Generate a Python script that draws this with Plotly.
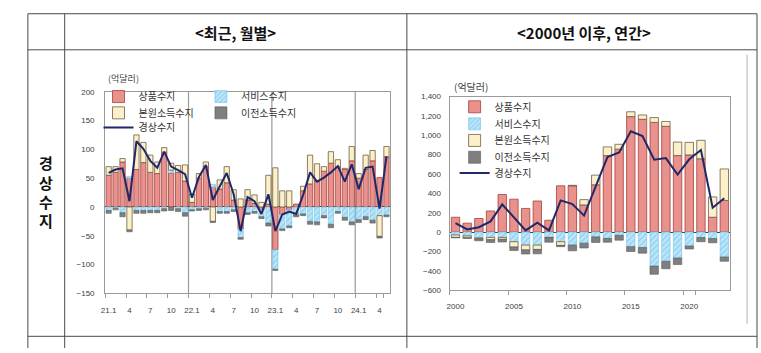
import plotly.graph_objects as go

# ---------------- data: recent, monthly (억달러) ----------------
MONTHS = ["21.1", "21.2", "21.3", "21.4", "21.5", "21.6", "21.7", "21.8", "21.9", "21.10", "21.11", "21.12",
          "22.1", "22.2", "22.3", "22.4", "22.5", "22.6", "22.7", "22.8", "22.9", "22.10", "22.11", "22.12",
          "23.1", "23.2", "23.3", "23.4", "23.5", "23.6", "23.7", "23.8", "23.9", "23.10", "23.11", "23.12",
          "24.1", "24.2", "24.3", "24.4", "24.5"]
MONTH_TICKS = ["21.1", "21.4", "21.7", "21.10", "22.1", "22.4", "22.7", "22.10",
               "23.1", "23.4", "23.7", "23.10", "24.1", "24.4"]
MONTH_TICK_LABELS = ["21.1", "4", "7", "10", "22.1", "4", "7", "10", "23.1", "4", "7", "10", "24.1", "4"]
YEAR_STARTS = ["22.1", "23.1", "24.1"]

M_GOODS = [55, 60, 78, 50, 65, 77, 60, 58, 95, 59, 60, 45,
           8, 50, 70, 34, 31, 42, 12, -38, 12, 6, -5, 5,
           -74, -13, -5, 5, 28, 40, 45, 62, 76, 70, 65, 80,
           50, 65, 80, 51, 87]
M_SERVICES = [-6, -2, -10, 3, -6, -6, -6, -6, -3, 5, -3, -10,
              -5, -3, -2, 5, -8, -8, -5, -15, -10, -8, -12, -28,
              -34, -25, -28, -12, -12, -25, -26, -15, -30, -8, -18, -26,
              -22, -17, -23, -15, -14]
M_PRIMARY = [15, 10, 6, -40, 60, 35, 30, 20, 8, 12, 12, 28,
             15, 8, 8, -25, 16, 28, 18, 14, 18, 15, 8, 50,
             68, 28, 28, -3, 8, 50, 30, 8, 20, 12, 2, 25,
             8, 25, 18, -36, 18]
M_SECONDARY = [-5, -3, -7, -3, -5, -5, -4, -4, -4, -6, -5, -6,
               -2, -3, -3, -2, -3, -3, -3, -3, -3, -3, -3, -5,
               -2, -3, -3, -2, -3, -5, -5, -4, -6, -3, -5, -5,
               -5, -5, -5, -3, -3]
M_CURRENT = [59, 65, 67, 10, 114, 101, 80, 68, 96, 70, 64, 57,
             16, 52, 73, 12, 36, 59, 22, -42, 17, 10, -12, 22,
             -42, -13, -8, -12, 21, 60, 44, 51, 60, 71, 44, 74,
             31, 68, 70, -3, 88]

# ---------------- data: since 2000, annual (억달러) ----------------
YEARS = ["2000", "2001", "2002", "2003", "2004", "2005", "2006", "2007", "2008", "2009", "2010", "2011",
         "2012", "2013", "2014", "2015", "2016", "2017", "2018", "2019", "2020", "2021", "2022", "2023"]
YEAR_TICKS = ["2000", "2005", "2010", "2015", "2020"]
Y_GOODS = [153, 92, 140, 218, 388, 340, 244, 321, 122, 478, 478, 280,
           488, 790, 857, 1193, 1165, 1133, 1093, 790, 797, 757, 153, 327]
Y_SERVICES = [-30, -40, -60, -55, -55, -100, -135, -135, -55, -100, -134, -115,
              -50, -65, -34, -151, -160, -352, -302, -268, -145, -57, -67, -258]
Y_PRIMARY = [-25, -20, -10, -25, -20, -55, -50, -45, -5, -38, 5, 55,
             100, 90, 50, 50, 45, 50, 50, 140, 130, 191, 210, 325]
Y_SECONDARY = [-5, -5, -20, -28, -28, -35, -42, -45, -45, -13, -60, -50,
               -57, -40, -50, -50, -58, -84, -77, -68, -30, -43, -44, -44]
Y_CURRENT = [93, 27, 50, 110, 285, 150, 17, 96, 17, 327, 289, 170,
             481, 775, 823, 1042, 992, 747, 764, 594, 752, 848, 252, 350]

NAMES = ["상품수지", "서비스수지", "본원소득수지", "이전소득수지", "경상수지"]
ROW_LABEL = ["경", "상", "수", "지"]

W, H = 761, 353
FONT = "Noto Sans CJK KR, Noto Sans, sans-serif"
GOODS_FILL, GOODS_LINE = "#E8918D", "#A8403A"
SERV_BG, SERV_FG = "#BEE6F8", "#5DBBEA"
PRIM_FILL, PRIM_LINE = "#FCF0CA", "#6E5E40"
SEC_FILL, SEC_LINE = "#7F7F7F", "#5A5A5A"
CA_LINE = "#1F2868"


def px_x(v):
    return v / W


def px_y(v):
    return 1 - v / H


fig = go.Figure()


def add_series(x, goods, serv, prim, sec, ca, xa, ya, width, legends):
    fig.add_trace(go.Bar(x=x, y=goods, name=NAMES[0], xaxis=xa, yaxis=ya, width=width,
                         marker=dict(color=GOODS_FILL, line=dict(color=GOODS_LINE, width=0.8)),
                         legend=legends[0], showlegend=True))
    fig.add_trace(go.Bar(x=x, y=serv, name=NAMES[1], xaxis=xa, yaxis=ya, width=width,
                         marker=dict(color=SERV_BG, line=dict(color=SERV_FG, width=0.5),
                                     pattern=dict(shape="/", fgcolor=SERV_FG, bgcolor=SERV_BG,
                                                  size=4, solidity=0.35)),
                         legend=legends[1], showlegend=True))
    fig.add_trace(go.Bar(x=x, y=prim, name=NAMES[2], xaxis=xa, yaxis=ya, width=width,
                         marker=dict(color=PRIM_FILL, line=dict(color=PRIM_LINE, width=0.8)),
                         legend=legends[2], showlegend=True))
    fig.add_trace(go.Bar(x=x, y=sec, name=NAMES[3], xaxis=xa, yaxis=ya, width=width,
                         marker=dict(color=SEC_FILL, line=dict(color=SEC_LINE, width=0.6)),
                         legend=legends[3], showlegend=True))
    fig.add_trace(go.Scatter(x=x, y=ca, name=NAMES[4], xaxis=xa, yaxis=ya, mode="lines",
                             line=dict(color=CA_LINE, width=2), legend=legends[4], showlegend=True))


add_series(MONTHS, M_GOODS, M_SERVICES, M_PRIMARY, M_SECONDARY, M_CURRENT, "x", "y", 0.76,
           ["legend", "legend2", "legend3", "legend4", "legend5"])
add_series(YEARS, Y_GOODS, Y_SERVICES, Y_PRIMARY, Y_SECONDARY, Y_CURRENT, "x2", "y2", 0.72,
           ["legend6", "legend7", "legend8", "legend9", "legend10"])

AX_LINE = "#9A9A9A"
TICK_FONT = dict(family="Liberation Sans, Arial, sans-serif", size=8, color="#404040")

fig.update_layout(
    width=W, height=H, margin=dict(l=0, r=0, t=0, b=0),
    paper_bgcolor="white", plot_bgcolor="white",
    barmode="relative", bargap=0.2, showlegend=True,
    font=dict(family=FONT, color="#333333"),
    xaxis=dict(domain=[px_x(101.7), px_x(388)], type="category", range=[-0.5, len(MONTHS) - 0.5],
               tickmode="array", tickvals=MONTH_TICKS, ticktext=MONTH_TICK_LABELS, tickangle=0,
               tickson="boundaries", ticks="outside", ticklen=4, tickcolor=AX_LINE,
               showgrid=False, showline=True, mirror=True, linecolor=AX_LINE, linewidth=1,
               tickfont=TICK_FONT, ticklabelstandoff=9, anchor="y"),
    yaxis=dict(domain=[px_y(297), px_y(90)], range=[-150, 200], dtick=50, tick0=0,
               showgrid=False, zeroline=True, zerolinecolor="#4A3A3A", zerolinewidth=1,
               showline=True, mirror=True, linecolor=AX_LINE, linewidth=1,
               tickfont=TICK_FONT, ticks="", ticklabelstandoff=8, anchor="x"),
    xaxis2=dict(domain=[px_x(448), px_x(730)], type="category", range=[-0.5, len(YEARS) - 0.5],
                tickmode="array", tickvals=YEAR_TICKS, ticktext=YEAR_TICKS, tickangle=0,
                tickson="boundaries", ticks="outside", ticklen=4, tickcolor=AX_LINE,
                showgrid=False, showline=True, mirror=True, linecolor=AX_LINE, linewidth=1,
                tickfont=TICK_FONT, ticklabelstandoff=8, anchor="y2"),
    yaxis2=dict(domain=[px_y(293.6), px_y(95)], range=[-600, 1400], dtick=200, tick0=0,
                tickformat=",", showgrid=False, zeroline=True, zerolinecolor="#4A3A3A",
                zerolinewidth=1, showline=True, mirror=True, linecolor=AX_LINE, linewidth=1,
                tickfont=TICK_FONT, ticks="", ticklabelstandoff=6, anchor="x2"),
)

# legends (one per entry so they can be placed like the original)
leg_font = dict(family=FONT, size=10, color="#333333")
left_pos = [(95, 95), (198, 95), (95, 111.7), (198, 111.7), (95, 126.7)]
right_pos = [(453, 105.5), (453, 123), (453, 140), (453, 157.3), (453, 173.5)]
legend_ids = ["legend", "legend2", "legend3", "legend4", "legend5",
              "legend6", "legend7", "legend8", "legend9", "legend10"]
for lid, (lx, ly) in zip(legend_ids, left_pos + right_pos):
    fig.update_layout({lid: dict(x=px_x(lx), y=px_y(ly), xanchor="left", yanchor="middle",
                                 bgcolor="rgba(0,0,0,0)", borderwidth=0, font=leg_font,
                                 itemwidth=30, tracegroupgap=0, visible=True)})

# year separators in the monthly chart (category boundaries)
shapes = []
for ys in YEAR_STARTS:
    idx = MONTHS.index(ys)
    shapes.append(dict(type="line", xref="x", yref="y domain", x0=idx - 0.5, x1=idx - 0.5,
                       y0=0, y1=1, line=dict(color="#9A9A9A", width=1.2), layer="below"))

# table frame
TL = "#4A4A4A"
table_lines = [
    (24, 10, 757, 10), (24, 47, 757, 47), (24, 341, 757, 341),
    (24, 10, 24, 353), (61, 10, 61, 353), (405, 10, 405, 353), (757, 10, 757, 353),
]
for x0, y0, x1, y1 in table_lines:
    shapes.append(dict(type="line", xref="paper", yref="paper", x0=px_x(x0), y0=px_y(y0),
                       x1=px_x(x1), y1=px_y(y1), line=dict(color=TL, width=1)))
# right chart frame edge
shapes.append(dict(type="line", xref="paper", yref="paper", x0=px_x(747), x1=px_x(747),
                   y0=px_y(52), y1=px_y(328), line=dict(color="#B0B0B0", width=1)))
fig.update_layout(shapes=shapes)

annotations = [
    dict(text="<b>&lt;최근, 월별&gt;</b>", x=px_x(233), y=px_y(29), font=dict(family=FONT, size=15, color="#111")),
    dict(text="<b>&lt;2000년 이후, 연간&gt;</b>", x=px_x(583), y=px_y(29), font=dict(family=FONT, size=15, color="#111")),
    dict(text="(억달러)", x=px_x(103), y=px_y(76.5), xanchor="left", font=dict(family=FONT, size=9, color="#444")),
    dict(text="(억달러)", x=px_x(450), y=px_y(85), xanchor="left", font=dict(family=FONT, size=10, color="#444")),
]
for i, ch in enumerate(ROW_LABEL):
    annotations.append(dict(text="<b>" + ch + "</b>", x=px_x(42), y=px_y(163 + 19.7 * i),
                            font=dict(family=FONT, size=15, color="#111")))
for a in annotations:
    a.setdefault("xanchor", "center")
    a.update(xref="paper", yref="paper", showarrow=False, yanchor="middle")
fig.update_layout(annotations=annotations)

fig.write_html("out.html")
